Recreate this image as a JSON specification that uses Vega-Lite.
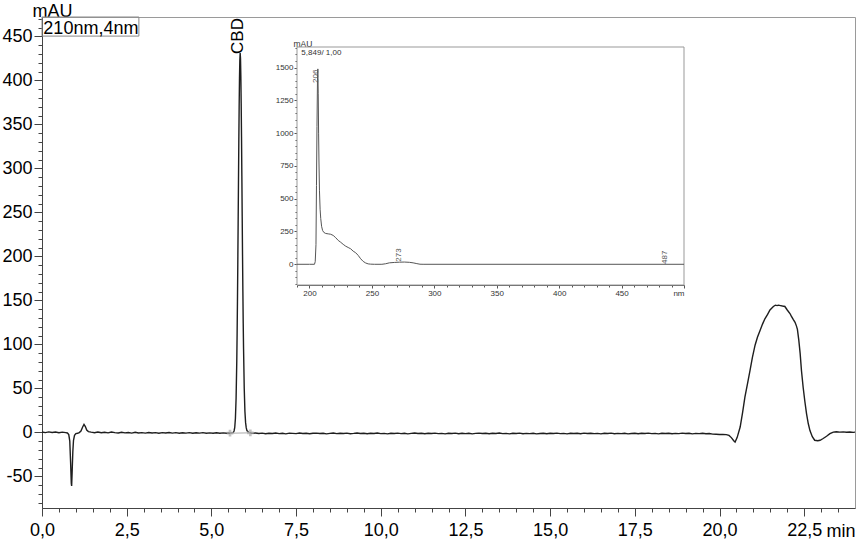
{
  "$schema": "https://vega.github.io/schema/vega-lite/v6.json",
  "autosize": "none",
  "width": 813,
  "height": 491,
  "padding": {"left": 42, "top": 17, "right": 3, "bottom": 32},
  "background": "white",
  "config": {
    "view": {"stroke": "#9a9a9a", "strokeWidth": 1},
    "axis": {"grid": false, "labelFont": "Liberation Sans", "titleFont": "Liberation Sans", "tickCount": 1000},
    "text": {"font": "Liberation Sans"}
  },
  "datasets": {
    "chrom": [
      {"t":0,"v":0.3},{"t":0.1,"v":-0.3},{"t":0.2,"v":0.5},{"t":0.3,"v":-0.2},{"t":0.4,"v":0.3},{"t":0.5,"v":-0.4},{"t":0.6,"v":0.2},{"t":0.7,"v":-0.3},{"t":0.75,"v":-0.7},{"t":0.79,"v":-2.5},
      {"t":0.82,"v":-10},{"t":0.845,"v":-35},{"t":0.865,"v":-58},{"t":0.875,"v":-61},{"t":0.89,"v":-45},{"t":0.91,"v":-22},{"t":0.93,"v":-9},{"t":0.96,"v":-3.5},{"t":1.0,"v":-1.5},{"t":1.05,"v":-1},
      {"t":1.1,"v":-0.3},{"t":1.15,"v":1.5},{"t":1.2,"v":6},{"t":1.24,"v":9},{"t":1.28,"v":6.5},{"t":1.32,"v":2.5},{"t":1.37,"v":0.8},{"t":1.45,"v":0.2},{"t":1.55,"v":-0.4},{"t":1.65,"v":0.3},
      {"t":1.75,"v":-0.5},{"t":1.85,"v":0.1},{"t":1.95,"v":-0.6},{"t":2.05,"v":0.4},{"t":2.15,"v":-0.3},{"t":2.25,"v":-0.8},{"t":2.35,"v":0.1},{"t":2.45,"v":-0.6},{"t":2.55,"v":-0.2},{"t":2.65,"v":-0.9},
      {"t":2.75,"v":0},{"t":2.85,"v":-0.7},{"t":2.95,"v":-0.3},{"t":3.05,"v":-0.9},{"t":3.15,"v":-0.2},{"t":3.25,"v":-0.8},{"t":3.35,"v":-0.4},{"t":3.45,"v":-1},{"t":3.55,"v":-0.3},{"t":3.65,"v":-0.8},
      {"t":3.75,"v":-0.2},{"t":3.85,"v":-0.9},{"t":3.95,"v":-0.4},{"t":4.05,"v":-1},{"t":4.15,"v":-0.5},{"t":4.25,"v":-0.9},{"t":4.35,"v":-0.3},{"t":4.45,"v":-1.1},{"t":4.55,"v":-0.5},{"t":4.65,"v":-0.9},
      {"t":4.75,"v":-0.4},{"t":4.85,"v":-1},{"t":4.95,"v":-0.6},{"t":5.05,"v":-1.1},{"t":5.15,"v":-0.5},{"t":5.25,"v":-1},{"t":5.35,"v":-0.6},{"t":5.45,"v":-1.1},{"t":5.5,"v":-0.8},{"t":5.55,"v":-1},
      {"t":5.6,"v":-0.8},{"t":5.65,"v":0},{"t":5.67,"v":1.5},{"t":5.69,"v":5.5},{"t":5.71,"v":16},{"t":5.73,"v":39},{"t":5.75,"v":81},{"t":5.76,"v":112},{"t":5.77,"v":149},{"t":5.78,"v":191},
      {"t":5.79,"v":237},{"t":5.8,"v":284},{"t":5.81,"v":330},{"t":5.82,"v":370},{"t":5.83,"v":402},{"t":5.84,"v":423},{"t":5.85,"v":431},{"t":5.86,"v":425},{"t":5.87,"v":405},{"t":5.88,"v":374},
      {"t":5.89,"v":336},{"t":5.9,"v":291},{"t":5.91,"v":245},{"t":5.92,"v":200},{"t":5.93,"v":160},{"t":5.94,"v":124},{"t":5.95,"v":95},{"t":5.97,"v":50},{"t":5.99,"v":24},{"t":6.01,"v":11},
      {"t":6.03,"v":5},{"t":6.05,"v":2},{"t":6.1,"v":0},{"t":6.15,"v":-0.6},{"t":6.2,"v":-1.2},
      {"t":6.3,"v":-0.7},{"t":6.4,"v":-1.4},{"t":6.5,"v":-0.9},{"t":6.6,"v":-1.6},{"t":6.7,"v":-1.0},{"t":6.8,"v":-1.3},{"t":6.9,"v":-0.8},{"t":7.0,"v":-1.5},{"t":7.1,"v":-1.1},{"t":7.2,"v":-1.7},
      {"t":7.3,"v":-0.9},{"t":7.4,"v":-1.2},{"t":7.5,"v":-1.5},{"t":7.6,"v":-0.8},{"t":7.7,"v":-1.3},{"t":7.8,"v":-1.0},{"t":7.9,"v":-1.6},{"t":8.0,"v":-1.1},{"t":8.1,"v":-0.9},{"t":8.2,"v":-1.4},
      {"t":8.3,"v":-1.0},{"t":8.4,"v":-1.7},{"t":8.5,"v":-1.2},{"t":8.6,"v":-0.8},{"t":8.7,"v":-1.5},{"t":8.8,"v":-1.1},{"t":8.9,"v":-1.4},{"t":9.0,"v":-0.9},{"t":9.1,"v":-1.6},{"t":9.2,"v":-1.2},
      {"t":9.3,"v":-0.7},{"t":9.4,"v":-1.3},{"t":9.5,"v":-1.0},{"t":9.6,"v":-1.6},{"t":9.7,"v":-1.1},{"t":9.8,"v":-1.4},{"t":9.9,"v":-0.8},{"t":10.0,"v":-1.5},{"t":10.1,"v":-1.2},{"t":10.2,"v":-1.8},
      {"t":10.3,"v":-1.0},{"t":10.4,"v":-1.3},{"t":10.5,"v":-0.9},{"t":10.6,"v":-1.5},{"t":10.7,"v":-1.1},{"t":10.8,"v":-1.7},{"t":10.9,"v":-1.2},{"t":11.0,"v":-0.8},{"t":11.1,"v":-1.4},{"t":11.2,"v":-1.0},
      {"t":11.3,"v":-1.6},{"t":11.4,"v":-1.1},{"t":11.5,"v":-1.4},{"t":11.6,"v":-0.9},{"t":11.7,"v":-1.5},{"t":11.8,"v":-1.2},{"t":11.9,"v":-1.8},{"t":12.0,"v":-1.0},{"t":12.1,"v":-1.3},{"t":12.2,"v":-0.9},
      {"t":12.3,"v":-1.6},{"t":12.4,"v":-1.1},{"t":12.5,"v":-1.5},{"t":12.6,"v":-1.0},{"t":12.7,"v":-1.7},{"t":12.8,"v":-1.2},{"t":12.9,"v":-0.9},{"t":13.0,"v":-1.4},{"t":13.1,"v":-1.1},{"t":13.2,"v":-1.6},
      {"t":13.3,"v":-1.0},{"t":13.4,"v":-1.3},{"t":13.5,"v":-0.8},{"t":13.6,"v":-1.5},{"t":13.7,"v":-1.2},{"t":13.8,"v":-1.7},{"t":13.9,"v":-1.1},{"t":14.0,"v":-1.4},{"t":14.1,"v":-0.9},{"t":14.2,"v":-1.6},
      {"t":14.3,"v":-1.2},{"t":14.4,"v":-1.5},{"t":14.5,"v":-1.0},{"t":14.6,"v":-1.8},{"t":14.7,"v":-1.3},{"t":14.8,"v":-1.0},{"t":14.9,"v":-1.6},{"t":15.0,"v":-1.1},{"t":15.1,"v":-1.4},{"t":15.2,"v":-0.9},
      {"t":15.3,"v":-1.5},{"t":15.4,"v":-1.2},{"t":15.5,"v":-1.7},{"t":15.6,"v":-1.0},{"t":15.7,"v":-1.4},{"t":15.8,"v":-1.1},{"t":15.9,"v":-1.6},{"t":16.0,"v":-0.9},{"t":16.1,"v":-1.3},{"t":16.2,"v":-1.0},
      {"t":16.3,"v":-1.5},{"t":16.4,"v":-1.2},{"t":16.5,"v":-1.8},{"t":16.6,"v":-1.1},{"t":16.7,"v":-1.4},{"t":16.8,"v":-0.9},{"t":16.9,"v":-1.6},{"t":17.0,"v":-1.2},{"t":17.1,"v":-1.5},{"t":17.2,"v":-1.0},
      {"t":17.3,"v":-1.7},{"t":17.4,"v":-1.3},{"t":17.5,"v":-1.1},{"t":17.6,"v":-1.6},{"t":17.7,"v":-1.0},{"t":17.8,"v":-1.4},{"t":17.9,"v":-0.9},{"t":18.0,"v":-1.5},{"t":18.1,"v":-1.2},{"t":18.2,"v":-1.8},
      {"t":18.3,"v":-1.1},{"t":18.4,"v":-1.4},{"t":18.5,"v":-1.0},{"t":18.6,"v":-1.6},{"t":18.7,"v":-1.2},{"t":18.8,"v":-1.5},{"t":18.9,"v":-0.9},{"t":19.0,"v":-1.3},{"t":19.1,"v":-1.1},{"t":19.2,"v":-1.7},
      {"t":19.3,"v":-1.2},{"t":19.4,"v":-1.5},{"t":19.5,"v":-1.0},{"t":19.6,"v":-1.6},{"t":19.7,"v":-1.3},{"t":19.8,"v":-2.0},{"t":19.9,"v":-2.2},{"t":20.0,"v":-2.5},{"t":20.1,"v":-2.3},{"t":20.2,"v":-2.6},
      {"t":20.28,"v":-3.5},{"t":20.35,"v":-6},{"t":20.42,"v":-9.5},{"t":20.46,"v":-11},{"t":20.52,"v":-6},{"t":20.61,"v":6},{"t":20.68,"v":22},{"t":20.75,"v":40},{"t":20.83,"v":56},{"t":20.9,"v":70},
      {"t":20.97,"v":85},{"t":21.05,"v":99},{"t":21.12,"v":108},{"t":21.2,"v":116},{"t":21.27,"v":123},{"t":21.34,"v":129},{"t":21.42,"v":134},{"t":21.49,"v":139},{"t":21.54,"v":141},{"t":21.59,"v":143},
      {"t":21.65,"v":144.5},{"t":21.7,"v":144},{"t":21.74,"v":144.5},{"t":21.8,"v":144},{"t":21.86,"v":143.5},{"t":21.93,"v":143},{"t":22.0,"v":139},{"t":22.08,"v":135},{"t":22.12,"v":132},{"t":22.18,"v":128},
      {"t":22.23,"v":125},{"t":22.27,"v":121},{"t":22.3,"v":117},{"t":22.34,"v":105},{"t":22.38,"v":90},{"t":22.42,"v":70},{"t":22.47,"v":51},{"t":22.52,"v":35},{"t":22.57,"v":21},{"t":22.62,"v":10},
      {"t":22.67,"v":2},{"t":22.74,"v":-5},{"t":22.81,"v":-9},{"t":22.9,"v":-9.5},{"t":22.97,"v":-9},{"t":23.06,"v":-7},{"t":23.16,"v":-4.5},{"t":23.26,"v":-1.5},{"t":23.36,"v":0.3},{"t":23.45,"v":0.6},
      {"t":23.55,"v":0.2},{"t":23.65,"v":0.5},{"t":23.75,"v":0.1},{"t":23.85,"v":0.4},{"t":23.95,"v":0},{"t":24.0,"v":0.2}
    ],
    "integration": [{"t":5.55,"v":-1},{"t":6.15,"v":-0.6}],
    "mainLabels": [{"t":5.8,"v":430,"label":"CBD"}],
    "spec": [
      {"nm":190,"a":0},{"nm":200,"a":0},{"nm":204,"a":0},{"nm":204.6,"a":20},{"nm":205.2,"a":150},{"nm":205.6,"a":600},{"nm":206.0,"a":1050},{"nm":206.4,"a":1400},{"nm":206.7,"a":1490},{"nm":207.0,"a":1300},
      {"nm":207.3,"a":1000},{"nm":207.6,"a":780},{"nm":208.0,"a":560},{"nm":208.5,"a":420},{"nm":209.0,"a":350},{"nm":209.7,"a":290},{"nm":210.5,"a":258},{"nm":211.5,"a":243},{"nm":213,"a":235},{"nm":215,"a":232},
      {"nm":217,"a":229},{"nm":219,"a":220},{"nm":221,"a":203},{"nm":223,"a":182},{"nm":225,"a":168},{"nm":227,"a":152},{"nm":229,"a":138},{"nm":231,"a":128},{"nm":233,"a":118},{"nm":235,"a":100},
      {"nm":237,"a":88},{"nm":239,"a":68},{"nm":241,"a":42},{"nm":243,"a":22},{"nm":245,"a":10},{"nm":247,"a":3},{"nm":249,"a":1},{"nm":252,"a":0},{"nm":258,"a":0},{"nm":261,"a":4},
      {"nm":264,"a":11},{"nm":268,"a":14},{"nm":272,"a":16},{"nm":276,"a":17},{"nm":280,"a":15},{"nm":283,"a":11},{"nm":286,"a":5},{"nm":288.5,"a":0.5},{"nm":291,"a":0},{"nm":500,"a":0}
    ],
    "specLabels": [{"nm":205.6,"a":1383,"label":"206"},{"nm":271.6,"a":20,"label":"273"},{"nm":485,"a":2,"label":"487"}]
  },
  "layer": [
    {
      "layer": [
        {
          "data": {"name": "chrom"},
          "mark": {"type": "line", "color": "#1e1e1e", "strokeWidth": 1.4, "interpolate": "linear"},
          "encoding": {
            "x": {
              "field": "t", "type": "quantitative",
              "scale": {"domain": [0, 24], "nice": false, "zero": false},
              "axis": {
                "orient": "bottom", "tickCount": 1000,
                "values": [0,0.5,1,1.5,2,2.5,3,3.5,4,4.5,5,5.5,6,6.5,7,7.5,8,8.5,9,9.5,10,10.5,11,11.5,12,12.5,13,13.5,14,14.5,15,15.5,16,16.5,17,17.5,18,18.5,19,19.5,20,20.5,21,21.5,22,22.5,23,23.5],
                "labelExpr": "datum.value % 2.5 === 0 ? replace(format(datum.value, '.1f'), '.', ',') : ''",
                "tickSize": {"condition": {"test": "datum.value % 2.5 === 0", "value": 8}, "value": 4},
                "labelFontSize": 18, "labelColor": "#000", "labelFlush": false, "labelOverlap": false, "labelPadding": 5,
                "domainColor": "#444", "tickColor": "#444",
                "title": "min", "titleFontSize": 18, "titleFontWeight": "normal", "titleColor": "#000",
                "titleAnchor": "end", "titleAlign": "right", "titleX": 813, "titleY": 28, "titleBaseline": "alphabetic"
              }
            },
            "y": {
              "field": "v", "type": "quantitative",
              "scale": {"domain": [-86, 472], "nice": false, "zero": false},
              "axis": {
                "orient": "left", "tickCount": 1000,
                "values": [-80,-70,-60,-50,-40,-30,-20,-10,0,10,20,30,40,50,60,70,80,90,100,110,120,130,140,150,160,170,180,190,200,210,220,230,240,250,260,270,280,290,300,310,320,330,340,350,360,370,380,390,400,410,420,430,440,450,460,470],
                "labelExpr": "datum.value % 50 === 0 ? '' + datum.value : ''",
                "tickSize": {"condition": {"test": "datum.value % 50 === 0", "value": 8}, "value": 4},
                "labelFontSize": 18, "labelColor": "#000", "labelOverlap": false, "labelPadding": 2,
                "domainColor": "#444", "tickColor": "#444",
                "title": "mAU", "titleFontSize": 18, "titleFontWeight": "normal", "titleColor": "#000",
                "titleAngle": 0, "titleAlign": "left", "titleBaseline": "alphabetic", "titleX": -10, "titleY": -1
              }
            }
          }
        },
        {
          "data": {"name": "integration"},
          "mark": {"type": "line", "color": "#aaaaaa", "strokeWidth": 1},
          "encoding": {"x": {"field": "t", "type": "quantitative"}, "y": {"field": "v", "type": "quantitative"}}
        },
        {
          "data": {"name": "integration"},
          "mark": {"type": "point", "shape": "cross", "size": 45, "filled": true, "color": "#aaaaaa"},
          "encoding": {"x": {"field": "t", "type": "quantitative"}, "y": {"field": "v", "type": "quantitative"}}
        },
        {
          "data": {"name": "mainLabels"},
          "mark": {"type": "text", "angle": 270, "align": "left", "baseline": "middle", "fontSize": 17, "color": "#000"},
          "encoding": {"x": {"field": "t", "type": "quantitative"}, "y": {"field": "v", "type": "quantitative"}, "text": {"field": "label"}}
        },
        {
          "data": {"values": [{}]},
          "mark": {"type": "rect", "fill": null, "fillOpacity": 0, "stroke": "#888", "strokeWidth": 1},
          "encoding": {"x": {"datum": 0}, "x2": {"datum": 2.86}, "y": {"datum": 450.3}, "y2": {"datum": 472}}
        },
        {
          "data": {"values": [{}]},
          "mark": {"type": "text", "text": "210nm,4nm", "align": "left", "baseline": "alphabetic", "fontSize": 18, "color": "#000"},
          "encoding": {"x": {"datum": 0.04}, "y": {"datum": 452.8}}
        }
      ]
    },
    {
      "layer": [
        {
          "data": {"values": [{}]},
          "mark": {"type": "rect", "fill": "white", "stroke": "#999", "strokeWidth": 1},
          "encoding": {
            "x": {
              "datum": 190, "type": "quantitative",
              "scale": {"domain": [190, 500], "range": [255, 642], "nice": false, "zero": false},
              "axis": {
                "orient": "bottom", "offset": -223, "tickCount": 1000,
                "values": [190,200,210,220,230,240,250,260,270,280,290,300,310,320,330,340,350,360,370,380,390,400,410,420,430,440,450,460,470,480,490,500],
                "labelExpr": "datum.value === 500 ? 'nm' : (datum.value % 50 === 0 && datum.value >= 200 ? '' + datum.value : '')",
                "tickSize": {"condition": {"test": "datum.value % 50 === 0", "value": 3}, "value": 2},
                "labelAlign": {"condition": {"test": "datum.value === 500", "value": "right"}, "value": "center"},
                "labelFontSize": 8, "labelColor": "#333", "labelFlush": false, "labelOverlap": false, "labelPadding": 1,
                "domainColor": "#555", "tickColor": "#555", "title": null
              }
            },
            "x2": {"datum": 500},
            "y": {
              "datum": -158, "type": "quantitative",
              "scale": {"domain": [-158, 1657], "range": [268, 30], "nice": false, "zero": false},
              "axis": {
                "orient": "left", "offset": -255, "tickCount": 1000,
                "values": [-150,-100,-50,0,50,100,150,200,250,300,350,400,450,500,550,600,650,700,750,800,850,900,950,1000,1050,1100,1150,1200,1250,1300,1350,1400,1450,1500,1550,1600,1650],
                "labelExpr": "datum.value % 250 === 0 && datum.value >= 0 && datum.value <= 1500 ? '' + datum.value : ''",
                "tickSize": {"condition": {"test": "datum.value % 250 === 0", "value": 3}, "value": 2},
                "labelFontSize": 8, "labelColor": "#333", "labelOverlap": false, "labelPadding": 1,
                "domainColor": "#555", "tickColor": "#555",
                "title": "mAU", "titleFontSize": 8.5, "titleFontWeight": "normal", "titleColor": "#333",
                "titleAngle": 0, "titleAlign": "left", "titleBaseline": "alphabetic", "titleX": -4, "titleY": 29.5
              }
            },
            "y2": {"datum": 1657}
          }
        },
        {
          "data": {"name": "spec"},
          "mark": {"type": "line", "color": "#555", "strokeWidth": 1},
          "encoding": {"x": {"field": "nm", "type": "quantitative"}, "y": {"field": "a", "type": "quantitative"}}
        },
        {
          "data": {"name": "specLabels"},
          "mark": {"type": "text", "angle": 270, "align": "left", "baseline": "middle", "fontSize": 8, "color": "#555"},
          "encoding": {"x": {"field": "nm", "type": "quantitative"}, "y": {"field": "a", "type": "quantitative"}, "text": {"field": "label"}}
        },
        {
          "data": {"values": [{}]},
          "mark": {"type": "text", "text": "5,849/ 1,00", "align": "left", "baseline": "alphabetic", "fontSize": 8, "color": "#333"},
          "encoding": {"x": {"datum": 193.5}, "y": {"datum": 1597}}
        }
      ]
    }
  ],
  "resolve": {"scale": {"x": "independent", "y": "independent"}}
}
